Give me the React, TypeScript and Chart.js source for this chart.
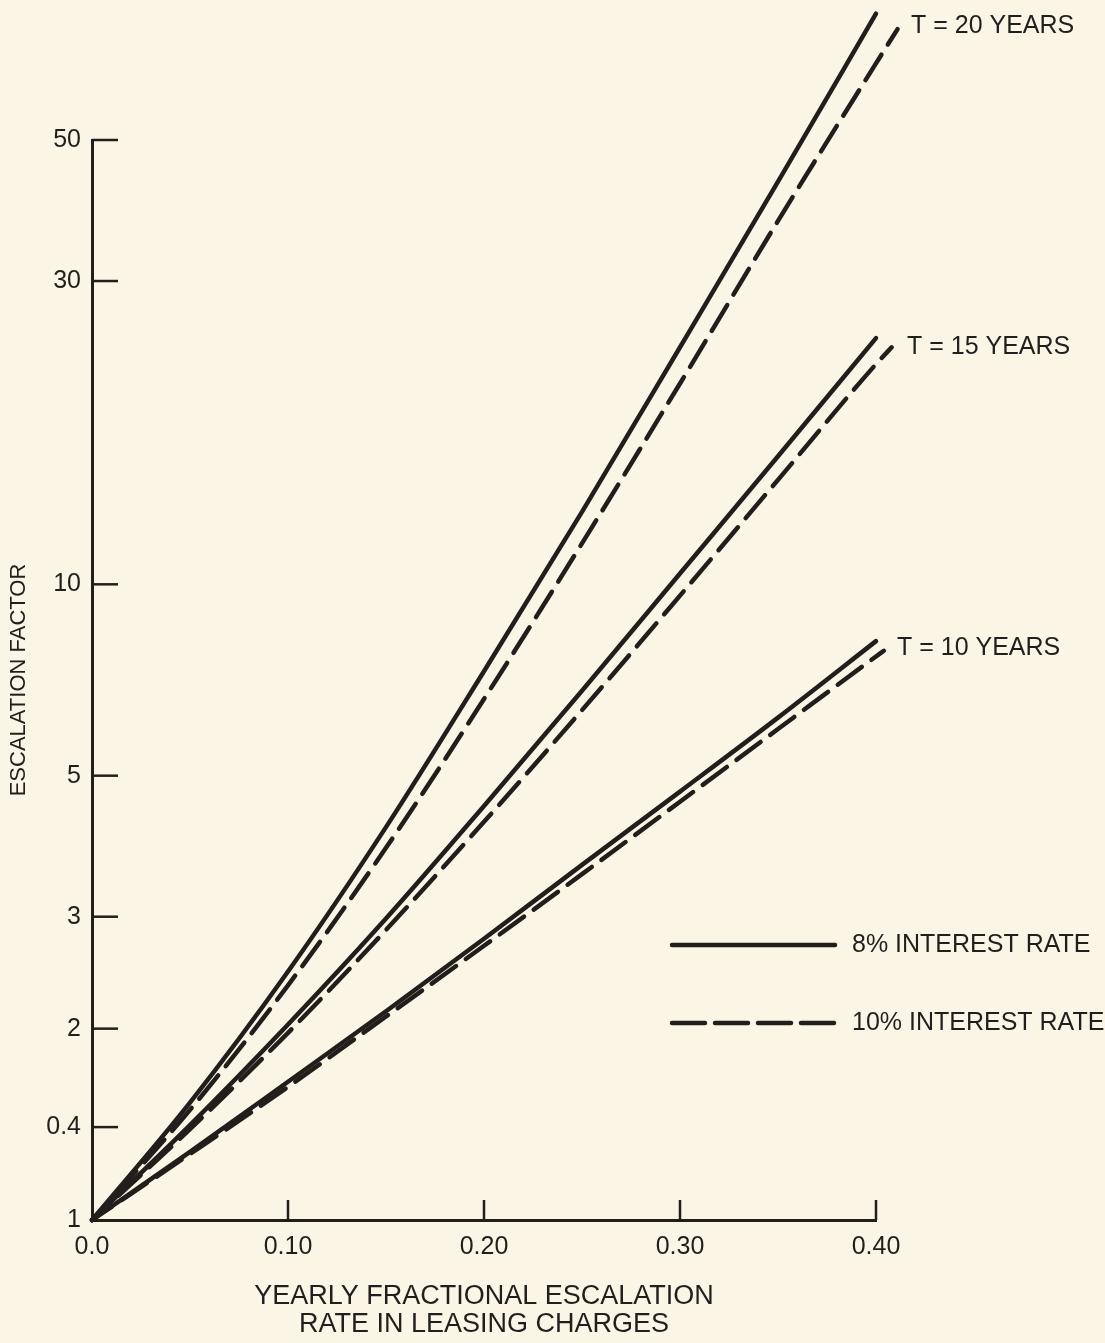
import React, { useEffect, useRef } from 'react';
import { Chart, registerables } from 'chart.js';

Chart.register(...registerables);

// Yearly fractional escalation rate (x)
const rates = [0, 0.05, 0.1, 0.15, 0.2, 0.25, 0.3, 0.35, 0.4];
// Escalation factor, 8% interest rate (solid)
const t20at8 = [1, 1.53, 2.46, 4.15, 7.3, 13.0, 23.6, 43, 79];
const t15at8 = [1, 1.41, 2.03, 2.98, 4.48, 6.8, 10.4, 15.9, 24.4];
const t10at8 = [1, 1.28, 1.65, 2.13, 2.77, 3.62, 4.72, 6.17, 8.14];
// Escalation factor, 10% interest rate (dashed)
const t20at10 = [1, 1.49, 2.34, 3.85, 6.6, 11.6, 20.7, 37.3, 66];
const t15at10 = [1, 1.39, 1.97, 2.86, 4.23, 6.34, 9.6, 14.6, 22.2];
const t10at10 = [1, 1.27, 1.62, 2.09, 2.7, 3.5, 4.55, 5.92, 7.7];
// dashed curves run slightly past 0.40 (order: T=20, T=15, T=10)
const tailX = [0.411, 0.408, 0.404];
const tailY = [74.7, 23.6, 7.86];

const periodLabels = ['T = 20 YEARS', 'T = 15 YEARS', 'T = 10 YEARS'];
const legendLabels = ['8% INTEREST RATE', '10% INTEREST RATE'];
const yTickValues = [1, 1.4, 2, 3, 5, 10, 30, 50];
const yTickLabels = ['1', '0.4', '2', '3', '5', '10', '30', '50'];
const xTickValues = [0, 0.1, 0.2, 0.3, 0.4];
const xTickLabels = ['0.0', '0.10', '0.20', '0.30', '0.40'];
const xTitle = ['YEARLY FRACTIONAL ESCALATION', 'RATE IN LEASING CHARGES'];
const yTitle = 'ESCALATION FACTOR';

const INK = '#221e1b';
const TEXT = '#211f1d';
const BG = '#fbf5e6';
const FONT = "'Liberation Sans', Arial, sans-serif";
const DASH = [30, 12];

const pts = (xs: number[], ys: number[]) => xs.map((x, i) => ({ x, y: ys[i] }));

export default function App() {
  const ref = useRef<HTMLCanvasElement | null>(null);

  useEffect(() => {
    if (!ref.current) return;

    const lineBase = {
      borderColor: INK,
      borderWidth: 4.5,
      pointRadius: 0,
      fill: false,
      clip: false as any,
      cubicInterpolationMode: 'monotone' as const,
      borderCapStyle: 'round' as const,
    };

    const solid = [t20at8, t15at8, t10at8].map((ys, k) => ({
      ...lineBase,
      label: `${periodLabels[k]} 8%`,
      data: pts(rates, ys),
    }));
    const dashedSets = [t20at10, t15at10, t10at10].map((ys, k) => ({
      ...lineBase,
      label: `${periodLabels[k]} 10%`,
      borderDash: DASH,
      borderDashOffset: 6,
      data: [...pts(rates, ys), { x: tailX[k], y: tailY[k] }],
    }));

    const decorations = {
      id: 'decorations',
      afterDatasetsDraw(chart: any) {
        const { ctx, chartArea, scales } = chart;
        const xs = scales.x;
        const ys = scales.y;
        ctx.save();
        // inward tick marks
        ctx.strokeStyle = INK;
        ctx.lineWidth = 2.5;
        ctx.lineCap = 'butt';
        yTickValues.forEach((v) => {
          if (v === 1) return;
          const py = ys.getPixelForValue(v);
          ctx.beginPath();
          ctx.moveTo(chartArea.left, py);
          ctx.lineTo(chartArea.left + 26, py);
          ctx.stroke();
        });
        xTickValues.forEach((v) => {
          if (v === 0) return;
          const px = xs.getPixelForValue(v);
          ctx.beginPath();
          ctx.moveTo(px, chartArea.bottom);
          ctx.lineTo(px, chartArea.bottom - 20);
          ctx.stroke();
        });

        // period labels
        ctx.fillStyle = TEXT;
        ctx.font = `25px ${FONT}`;
        ctx.textAlign = 'left';
        ctx.textBaseline = 'middle';
        const labelPos = [
          [911, 26],
          [907, 347],
          [897, 648],
        ];
        periodLabels.forEach((t, i) => ctx.fillText(t, labelPos[i][0], labelPos[i][1]));

        // legend
        const lx0 = 672;
        const lx1 = 835;
        const rows = [945, 1023];
        ctx.lineWidth = 4.5;
        ctx.lineCap = 'round';
        rows.forEach((ry, i) => {
          ctx.setLineDash(i === 0 ? [] : [33, 10]);
          ctx.beginPath();
          ctx.moveTo(lx0, ry);
          ctx.lineTo(lx1, ry);
          ctx.stroke();
          ctx.setLineDash([]);
          ctx.fillText(legendLabels[i], 852, ry);
        });
        ctx.restore();
      },
    };

    const chart = new Chart(ref.current, {
      type: 'line',
      data: { datasets: [...solid, ...dashedSets] as any },
      options: {
        responsive: false,
        maintainAspectRatio: false,
        animation: false,
        layout: { padding: { left: 0, right: 229, top: 140, bottom: 0 } },
        plugins: { legend: { display: false }, tooltip: { enabled: false } },
        scales: {
          x: {
            type: 'linear',
            bounds: 'data',
            afterDataLimits: (s: any) => {
              s.min = xTickValues[0];
              s.max = xTickValues[xTickValues.length - 1];
            },
            afterBuildTicks: (s: any) => {
              s.ticks = xTickValues.map((value) => ({ value }));
              s.min = xTickValues[0];
              s.max = xTickValues[xTickValues.length - 1];
            },
            afterFit: (s: any) => {
              s.height = 123;
            },
            ticks: {
              autoSkip: false,
              maxRotation: 0,
              padding: 12,
              color: TEXT,
              font: { family: FONT, size: 25 },
              callback: (_v: any, i: number) => xTickLabels[i],
            },
            grid: { display: false, drawTicks: false },
            border: { display: true, color: INK, width: 3 },
            title: {
              display: true,
              text: xTitle,
              color: TEXT,
              font: { family: FONT, size: 27, lineHeight: 1.05 },
              padding: { top: 0, bottom: 4 },
            },
          } as any,
          y: {
            type: 'logarithmic',
            min: 1,
            max: 50,
            afterBuildTicks: (s: any) => {
              s.ticks = yTickValues.map((value) => ({ value }));
            },
            afterFit: (s: any) => {
              s.width = 92;
            },
            ticks: {
              autoSkip: false,
              padding: 11,
              color: TEXT,
              font: { family: FONT, size: 25 },
              callback: (_v: any, i: number) => yTickLabels[i],
            },
            grid: { display: false, drawTicks: false },
            border: { display: true, color: INK, width: 3 },
            title: {
              display: true,
              text: yTitle,
              color: TEXT,
              font: { family: FONT, size: 22 },
              padding: { top: 6, bottom: 0 },
            },
          },
        },
      },
      plugins: [decorations],
    });

    return () => chart.destroy();
  }, []);

  return (
    <div
      style={{
        position: 'absolute',
        left: 0,
        top: 0,
        width: 1105,
        height: 1343,
        background: BG,
      }}
    >
      <canvas ref={ref} width={1105} height={1343} style={{ display: 'block' }} />
    </div>
  );
}
